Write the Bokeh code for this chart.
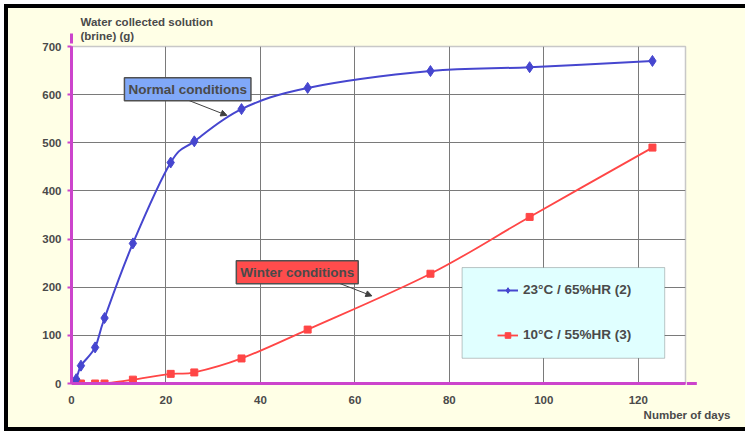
from bokeh.plotting import figure
from bokeh.models import (FixedTicker, Label, Arrow, NormalHead, Legend, LegendItem,
                          BoxAnnotation, ColumnDataSource, Range1d, Title)
from bokeh.embed import file_html
from bokeh.resources import INLINE

# ---- data ----
days_23 = [0, 1, 2, 5, 7, 13, 21, 26, 36, 50, 76, 97, 123]
water_23 = [0, 9, 37, 75, 136, 291, 459, 503, 570, 614, 649, 657, 670]
days_10 = [0, 1, 2, 5, 7, 13, 21, 26, 36, 50, 76, 97, 123]
water_10 = [0, 0, 0, 0, 0, 8, 20, 23, 52, 112, 228, 346, 490]
series_names = ["23°C / 65%HR (2)", "10°C / 55%HR (3)"]
x_ticks = [0, 20, 40, 60, 80, 100, 120]
y_ticks = [0, 100, 200, 300, 400, 500, 600, 700]
y_title = ["Water collected solution", "(brine) (g)"]
x_title = "Number of days"
notes = ["Normal conditions", "Winter conditions"]

FONT = "Liberation Sans"
TXT = "#4A4A4A"
MAG = "#CC44CC"
BLUE = "#4646CF"
RED = "#FF4646"
BG = "#FFFFE6"


def smooth(xs, ys):
    """Bezier segments through the data points (Catmull-Rom style smoothing)."""
    n = len(xs)
    d = dict(x0=[], y0=[], x1=[], y1=[], cx0=[], cy0=[], cx1=[], cy1=[])
    for i in range(n - 1):
        a = i - 1 if i > 0 else i
        b = i + 2 if i + 2 < n else i + 1
        d["x0"].append(xs[i]); d["y0"].append(ys[i])
        d["x1"].append(xs[i + 1]); d["y1"].append(ys[i + 1])
        d["cx0"].append(xs[i] + (xs[i + 1] - xs[a]) / 6)
        d["cy0"].append(ys[i] + (ys[i + 1] - ys[a]) / 6)
        d["cx1"].append(xs[i + 1] - (xs[b] - xs[i]) / 6)
        d["cy1"].append(ys[i + 1] - (ys[b] - ys[i]) / 6)
    return ColumnDataSource(d)


p = figure(width=745, height=432, output_backend="svg", toolbar_location=None,
           x_range=Range1d(0, 130), y_range=Range1d(0, 700),
           min_border_left=71, min_border_right=60, min_border_top=46, min_border_bottom=49)
p.background_fill_color = "white"
p.border_fill_color = None
p.outline_line_color = "#C8C8C8"
p.outline_line_width = 1.5
p.styles = {
    "background-color": BG,
    "box-shadow": ("inset 4px 0 0 0 #fff, inset 0 4px 0 0 #fff, inset 0 -1px 0 0 #fff, "
                   "inset 8px 0 0 0 #000, inset 0 8px 0 0 #000, inset 0 -5px 0 0 #000"),
}

for ax in (p.xaxis[0], p.yaxis[0]):
    ax.axis_line_color = MAG
    ax.axis_line_width = 3
    ax.major_tick_line_color = MAG
    ax.major_tick_line_width = 2
    ax.major_tick_in = 0
    ax.minor_tick_line_color = None
    ax.major_label_text_font = FONT
    ax.major_label_text_font_style = "bold"
    ax.major_label_text_font_size = "11.5px"
    ax.major_label_text_color = TXT
p.xaxis.ticker = FixedTicker(ticks=x_ticks)
p.yaxis.ticker = FixedTicker(ticks=y_ticks)
p.xaxis.major_tick_out = 0
p.xaxis.major_label_standoff = 12
p.yaxis.major_tick_out = 4
p.yaxis.major_label_standoff = 6

p.grid.grid_line_color = "#7A7A7A"
p.grid.grid_line_width = 1
p.xgrid.ticker = FixedTicker(ticks=x_ticks)
p.ygrid.ticker = FixedTicker(ticks=y_ticks)

# curves
src23 = smooth(days_23, water_23)
src10 = smooth(days_10, water_10)
b10 = p.bezier(x0="x0", y0="y0", x1="x1", y1="y1", cx0="cx0", cy0="cy0", cx1="cx1", cy1="cy1",
               source=src10, line_color=RED, line_width=1.8)
s10 = p.scatter(days_10, water_10, marker="square", size=7, fill_color=RED, line_color=RED)
b23 = p.bezier(x0="x0", y0="y0", x1="x1", y1="y1", cx0="cx0", cy0="cy0", cx1="cx1", cy1="cy1",
               source=src23, line_color=BLUE, line_width=2)
s23 = p.scatter(days_23, water_23, marker="diamond", size=11, fill_color=BLUE, line_color=BLUE)

# axis arrows
p.add_layout(Arrow(x_start=0, y_start=0, x_end=0, y_end=727, line_color=MAG, line_width=3,
                   end=NormalHead(size=10, fill_color=MAG, line_color=MAG, line_width=1)))
p.add_layout(Arrow(x_start=0, y_start=0, x_end=132.4, y_end=0, line_color=MAG, line_width=3,
                   end=NormalHead(size=10, fill_color=MAG, line_color=MAG, line_width=1)))

# axis titles (as plot titles in the border panels)
title_style = dict(text_font=FONT, text_font_style="bold", text_font_size="11.5px",
                   text_color=TXT)
p.add_layout(Title(text=y_title[0] + "\n" + y_title[1], align="left", offset=9,
                   text_line_height=1.2, standoff=9, **title_style), "above")
p.add_layout(Title(text=x_title, align="right", offset=-45, standoff=0, **title_style), "below")

# annotation callouts
p.add_layout(Arrow(x_start=24.3, y_start=590, x_end=32.9, y_end=557, line_color="#404040", line_width=1,
                   end=NormalHead(size=6, fill_color="#404040", line_color="#404040")))
p.add_layout(Arrow(x_start=56.2, y_start=210, x_end=63.6, y_end=182, line_color="#404040", line_width=1,
                   end=NormalHead(size=6, fill_color="#404040", line_color="#404040")))
p.add_layout(Label(x=24.6, y=611, text=notes[0], text_font=FONT, text_font_style="bold",
                   text_font_size="13.5px", text_color=TXT, text_align="center", text_baseline="middle",
                   background_fill_color="#80A8F8", border_line_color="#505050", border_line_width=1.5,
                   padding=4))
p.add_layout(Label(x=47.8, y=231, text=notes[1], text_font=FONT, text_font_style="bold",
                   text_font_size="13.5px", text_color=TXT, text_align="center", text_baseline="middle",
                   background_fill_color="#FF4C4C", border_line_color="#505050", border_line_width=1.5,
                   padding=4))

# legend
p.add_layout(BoxAnnotation(left=82.7, right=125.6, bottom=52.4, top=240.8,
                           fill_color="#E0FFFF", fill_alpha=1, line_color="#404040", line_width=1))
legend = Legend(items=[LegendItem(label=series_names[0], renderers=[b23, s23]),
                       LegendItem(label=series_names[1], renderers=[b10, s10])],
                location=(426, 41), padding=0, margin=0, spacing=30,
                glyph_width=21, glyph_height=14, label_height=14, label_standoff=5,
                background_fill_alpha=0, border_line_alpha=0,
                label_text_font=FONT, label_text_font_style="bold",
                label_text_font_size="13.5px", label_text_color=TXT)
p.add_layout(legend, "center")

open("out.html", "w").write(file_html(p, INLINE))
